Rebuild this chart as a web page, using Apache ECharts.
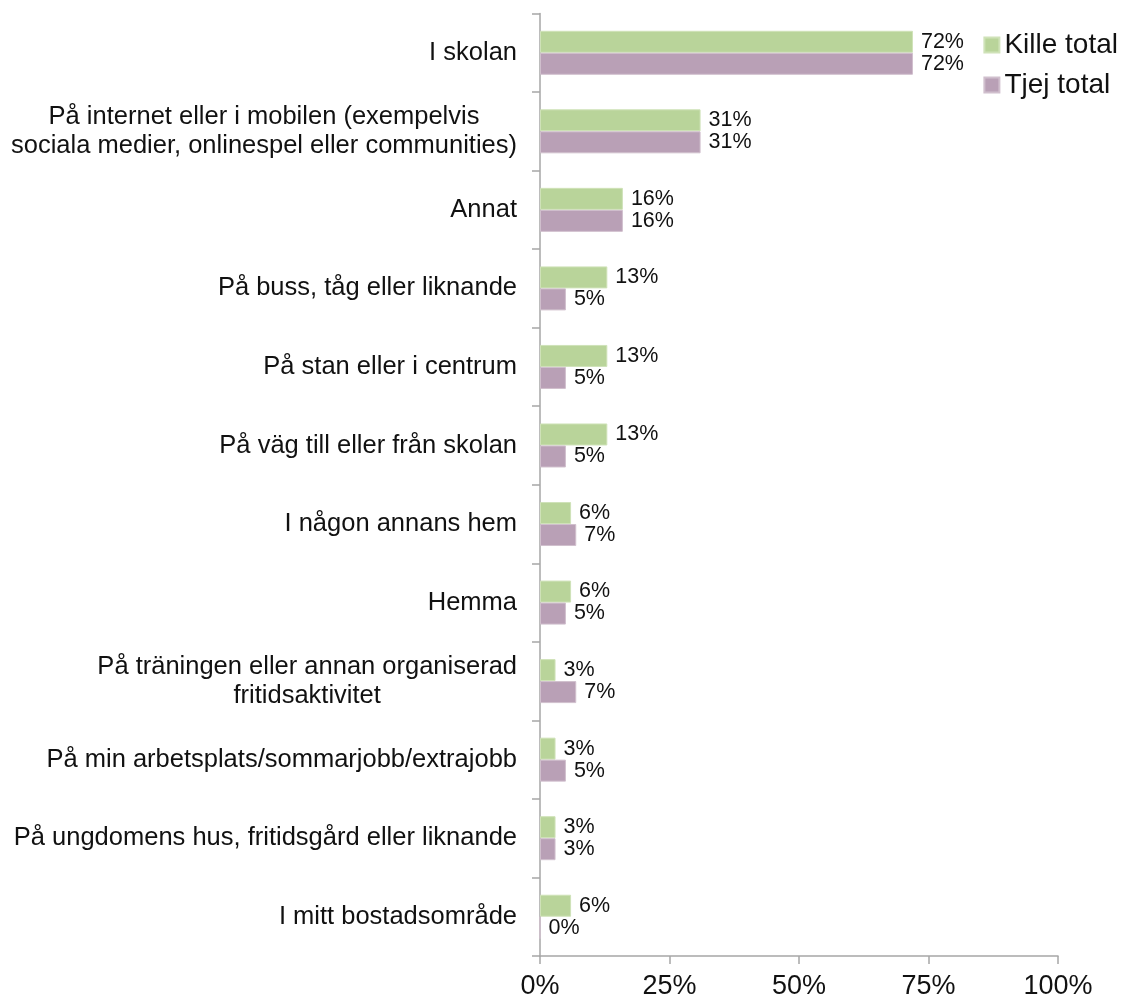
<!DOCTYPE html>
<html>
<head>
<meta charset="utf-8">
<script src="https://cdn.jsdelivr.net/npm/echarts@6/dist/echarts.min.js"></script>
<style>
  html, body { margin: 0; padding: 0; background: #ffffff; }
  #chart { width: 1125px; height: 1002px; }
</style>
</head>
<body>
<div id="chart"></div>
<script>
// Where the incidents took place, shares per group (percent)
const categories = [
  'I skolan',
  'På internet eller i mobilen (exempelvis\nsociala medier, onlinespel eller communities)',
  'Annat',
  'På buss, tåg eller liknande',
  'På stan eller i centrum',
  'På väg till eller från skolan',
  'I någon annans hem',
  'Hemma',
  'På träningen eller annan organiserad\nfritidsaktivitet',
  'På min arbetsplats/sommarjobb/extrajobb',
  'På ungdomens hus, fritidsgård eller liknande',
  'I mitt bostadsområde'
];
const killeTotal = [72, 31, 16, 13, 13, 13, 6, 6, 3, 3, 3, 6];
const tjejTotal  = [72, 31, 16, 5, 5, 5, 7, 5, 7, 5, 3, 0];
const seriesNames = ['Kille total', 'Tjej total'];
const xTicks = [0, 25, 50, 75, 100];

const FONT = "'Liberation Sans', Arial, sans-serif";
const AXIS_GREY = '#a6a6a6';
const TEXT = '#111111';

const chart = echarts.init(document.getElementById('chart'), null, { renderer: 'canvas' });

function valueLabel() {
  return {
    show: true,
    position: 'right',
    distance: 8,
    formatter: p => p.value + '%',
    fontFamily: FONT,
    fontSize: 21.5,
    color: TEXT
  };
}

chart.setOption({
  animation: false,
  backgroundColor: '#ffffff',
  textStyle: { fontFamily: FONT },
  legend: {
    orient: 'vertical',
    right: 2,
    top: 26,
    itemWidth: 15,
    itemHeight: 15,
    itemGap: 12,
    icon: 'rect',
    textStyle: { fontFamily: FONT, fontSize: 28, color: TEXT },
    data: seriesNames
  },
  grid: {
    left: 540,
    right: 67,
    top: 13.5,
    bottom: 46,
    containLabel: false
  },
  xAxis: {
    type: 'value',
    min: xTicks[0],
    max: xTicks[xTicks.length - 1],
    interval: 25,
    splitLine: { show: false },
    axisLine: { show: true, lineStyle: { color: AXIS_GREY, width: 1.5 } },
    axisTick: { show: true, length: 8, lineStyle: { color: AXIS_GREY, width: 1.5 } },
    axisLabel: {
      formatter: v => v + '%',
      fontFamily: FONT,
      fontSize: 27,
      color: TEXT,
      margin: 17
    }
  },
  yAxis: {
    type: 'category',
    inverse: true,
    data: categories,
    axisLine: { show: true, lineStyle: { color: AXIS_GREY, width: 1.5 } },
    axisTick: { show: true, length: 8, lineStyle: { color: AXIS_GREY, width: 1.5 } },
    axisLabel: {
      margin: 23,
      align: 'right',
      color: TEXT,
      fontFamily: FONT,
      fontSize: 25.5,
      lineHeight: 29,
      formatter: v => v.split('\n').map(l => '{c|' + l + '}').join('\n'),
      rich: {
        c: { align: 'center', fontFamily: FONT, fontSize: 25.5, lineHeight: 29, color: TEXT }
      }
    }
  },
  series: [
    {
      name: seriesNames[0],
      type: 'bar',
      data: killeTotal,
      barWidth: 22,
      barGap: '0%',
      itemStyle: { color: '#b9d49a', borderColor: '#cfe2b8', borderWidth: 1 },
      label: valueLabel()
    },
    {
      name: seriesNames[1],
      type: 'bar',
      data: tjejTotal,
      barWidth: 22,
      barGap: '0%',
      itemStyle: { color: '#b9a0b6', borderColor: '#d0bfcd', borderWidth: 1 },
      label: valueLabel()
    }
  ]
});
</script>
</body>
</html>
